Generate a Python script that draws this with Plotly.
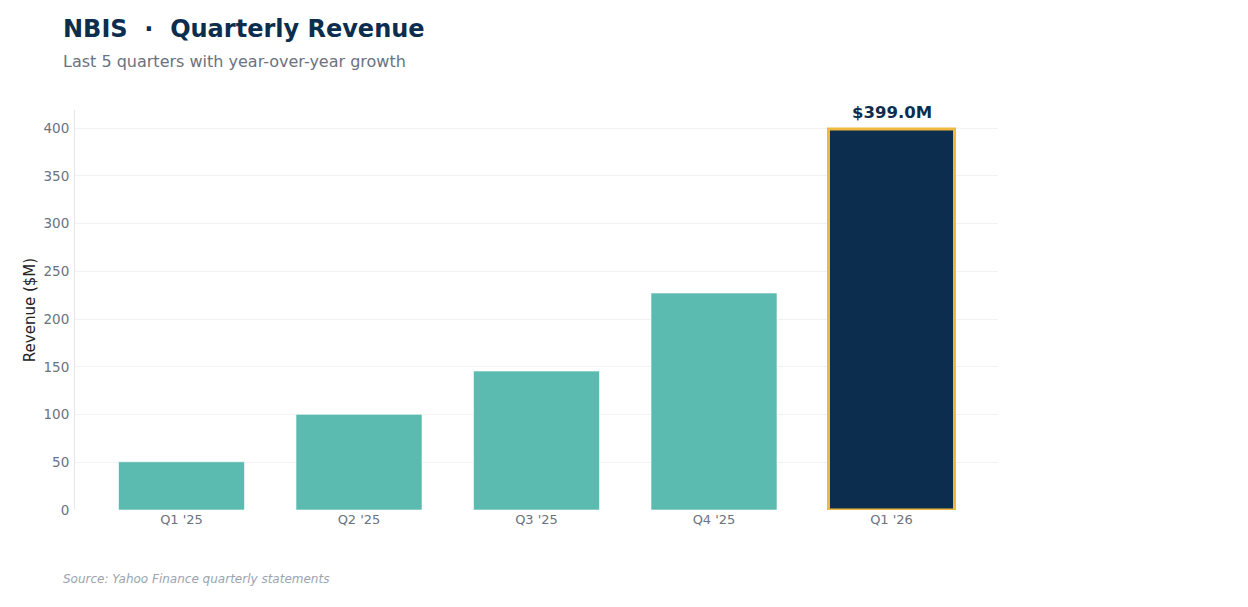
import plotly.graph_objects as go

# quarterly revenue, $M
quarters = ["Q1 '25", "Q2 '25", "Q3 '25", "Q4 '25", "Q1 '26"]
revenue = [50.5, 100.2, 145.6, 227.3, 399.0]

TEAL = "#5bbbb0"
NAVY = "#0c2d4e"
GOLD = "#f0b841"

# page body keeps an 8px margin, so the figure is sized to fit inside it
W, H = 1232, 591

latest = len(quarters) - 1

bar_colors = [NAVY if i == latest else TEAL for i in range(len(quarters))]
line_colors = [GOLD if i == latest else "rgba(255,255,255,0.6)" for i in range(len(quarters))]
line_widths = [3 if i == latest else 1 for i in range(len(quarters))]

fig = go.Figure()

fig.add_trace(
    go.Bar(
        x=quarters,
        y=revenue,
        marker=dict(
            color=bar_colors,
            line=dict(color=line_colors, width=line_widths)
        ),
        hovertemplate="%{x}: $%{y:.1f}M<extra></extra>"
    )
)

# value label over the latest quarter
fig.add_annotation(
    x=quarters[latest],
    y=revenue[latest],
    text=f"<b>${revenue[latest]:.1f}M</b>",
    showarrow=False,
    yanchor="middle",
    yshift=17,
    font=dict(family="DejaVu Sans", size=16.5, color=NAVY)
)

fig.update_layout(
    width=W,
    height=H,
    margin=dict(l=67, r=242, t=102, b=89),
    paper_bgcolor="white",
    plot_bgcolor="white",
    font=dict(family="DejaVu Sans", color="#6b7280"),
    bargap=0.29,
    showlegend=False,
    title=dict(
        text="<b>NBIS  ·  Quarterly Revenue</b>",
        font=dict(size=24, color=NAVY),
        x=55 / W,
        xanchor="left",
        y=1 - 21 / H,
        yanchor="middle",
        xref="container",
        yref="container"
    )
)

fig.add_annotation(
    text="Last 5 quarters with year-over-year growth",
    xref="paper", yref="paper",
    x=-14 / 923, y=(502 - 54) / 400,
    xanchor="left", yanchor="middle",
    showarrow=False,
    font=dict(size=16, color="#6b7280")
)

fig.add_annotation(
    text="<i>Source: Yahoo Finance quarterly statements</i>",
    xref="paper", yref="paper",
    x=-14 / 923, y=(502 - 571) / 400,
    xanchor="left", yanchor="middle",
    showarrow=False,
    font=dict(size=12, color="#9ca3af")
)

fig.update_xaxes(
    range=[-0.6, 4.6],
    showgrid=False,
    showline=False,
    ticks="",
    tickfont=dict(size=13, color="#6b7280")
)

fig.update_yaxes(
    range=[0, 419],
    dtick=50,
    showgrid=True,
    gridcolor="#f1f2f5",
    gridwidth=1,
    zeroline=False,
    showline=True,
    linecolor="#e5e7eb",
    linewidth=1,
    ticks="",
    ticklabelstandoff=2,
    tickfont=dict(size=13.5, color="#6b7280"),
    title=dict(text="Revenue ($M)", font=dict(size=15, color="#222222"), standoff=4)
)

fig.write_html("out.html")
